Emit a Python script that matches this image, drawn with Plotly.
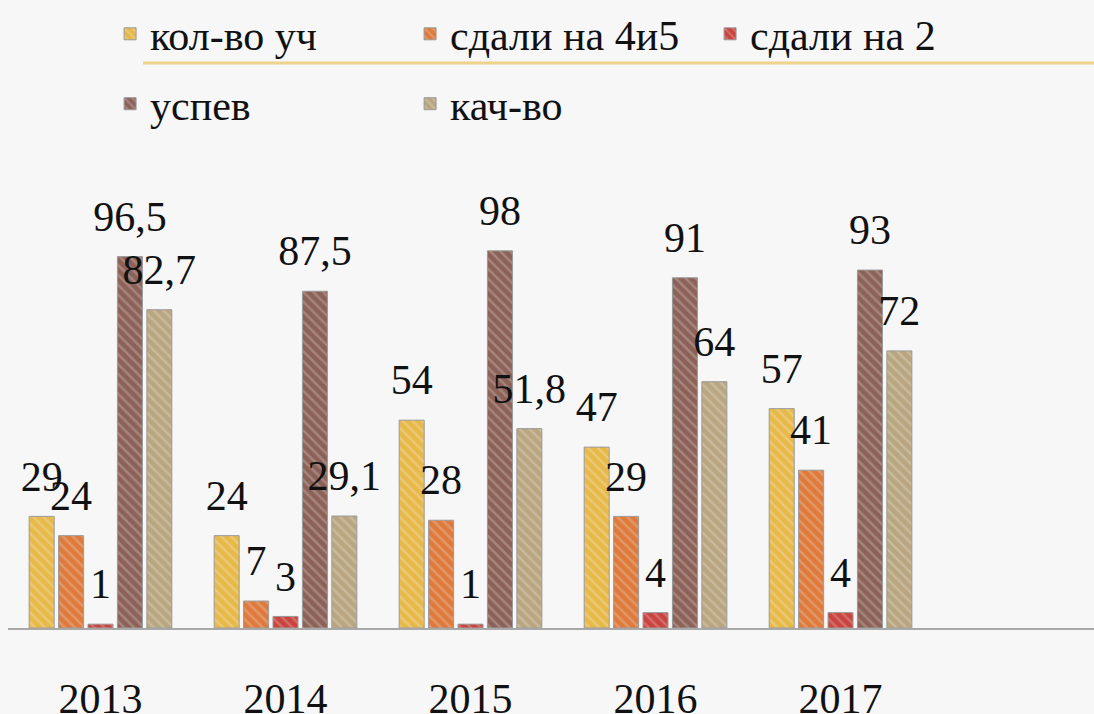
import plotly.graph_objects as go

years = ["2013", "2014", "2015", "2016", "2017"]
kol_vo = [29, 24, 54, 47, 57]
sdali_4i5 = [24, 7, 28, 29, 41]
sdali_2 = [1, 3, 1, 4, 4]
uspev = [96.5, 87.5, 98, 91, 93]
kach_vo = [82.7, 29.1, 51.8, 64, 72]

names = ["кол-во уч", "сдали на 4и5", "сдали на 2", "успев", "кач-во"]
series = [kol_vo, sdali_4i5, sdali_2, uspev, kach_vo]
colors = ["#E6B94A", "#DD7A3C", "#C9443E", "#8C6258", "#B9A680"]
legends = ["legend", "legend", "legend", "legend2", "legend2"]

FONT = "Liberation Serif"
LABEL_LIFT = 3.6  # gap (in value units) between bar top and its label


def fmt(v):
    return ("%g" % v).replace(".", ",")


fig = go.Figure()
for j, (name, vals, col, lg) in enumerate(zip(names, series, colors, legends)):
    fig.add_trace(go.Bar(
        x=years, y=vals, name=name, offsetgroup=str(j),
        marker=dict(color=col,
                    line=dict(color="#9a9a9a", width=1),
                    pattern=dict(shape="\\", fgcolor="#ffffff", fgopacity=0.22,
                                 size=7, solidity=0.35)),
        legend=lg,
    ))
    # invisible spacer bar sitting on top of the real bar, carrying the value label
    fig.add_trace(go.Bar(
        x=years, y=[LABEL_LIFT] * len(vals), base=vals, offsetgroup=str(j),
        marker=dict(color="rgba(0,0,0,0)", line=dict(width=0)),
        text=[fmt(v) for v in vals],
        textposition="outside",
        textfont=dict(family=FONT, size=42, color="#111111"),
        constraintext="none",
        cliponaxis=False,
        showlegend=False, hoverinfo="skip",
    ))

fig.update_layout(
    width=1094, height=714,
    paper_bgcolor="#f7f7f7", plot_bgcolor="#f7f7f7",
    margin=dict(l=8, r=0, t=150, b=86),
    barmode="group", bargap=0.205, bargroupgap=0.15,
    font=dict(family=FONT, color="#111111"),
    showlegend=True,
    legend=dict(orientation="h", x=0.094, xanchor="left", y=1.257, yanchor="middle",
                font=dict(family=FONT, size=42, color="#111111"),
                entrywidth=255, entrywidthmode="pixels", bgcolor="rgba(0,0,0,0)"),
    legend2=dict(orientation="h", x=0.094, xanchor="left", y=1.108, yanchor="middle",
                 font=dict(family=FONT, size=42, color="#111111"),
                 entrywidth=255, entrywidthmode="pixels", bgcolor="rgba(0,0,0,0)"),
    xaxis=dict(range=[-0.5, 5.37], showline=True, linecolor="#a8a8a8", linewidth=2,
               ticks="", showgrid=False, ticklabelstandoff=33, automargin=False,
               tickfont=dict(family=FONT, size=42, color="#111111")),
    yaxis=dict(range=[0, 122.9], visible=False, automargin=False),
    shapes=[dict(type="line", xref="paper", yref="paper",
                 x0=(143 - 8) / 1086, x1=1.0, y0=(628 - 57) / 478, y1=(628 - 57) / 478,
                 line=dict(color="#EFD28C", width=3))],
)

fig.write_html(
    "out.html",
    config={"displayModeBar": False},
    post_script="document.body.style.margin='0';document.body.style.overflow='hidden';",
)
